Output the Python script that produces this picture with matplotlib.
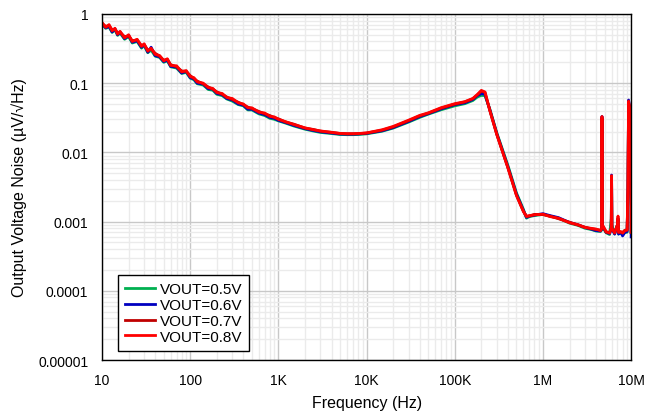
import numpy as np
import matplotlib
matplotlib.use("Agg")
import matplotlib.pyplot as plt
from matplotlib.ticker import LogLocator, NullFormatter

plt.rcParams['font.family'] = ['Liberation Sans', 'DejaVu Sans']

# frequency points (Hz)
freq = [10, 11, 12, 13, 14, 15, 16, 18, 20, 22, 25, 28, 30, 33, 36, 40, 45, 50, 55, 60,
        70, 80, 90, 100, 110, 120, 140, 160, 180, 200, 230, 260, 300, 350, 400, 450, 500,
        600, 700, 800, 900, 1000,
        1.2e3, 1.5e3, 2e3, 2.5e3, 3e3, 4e3, 5e3, 6e3, 7e3, 8e3, 1e4, 1.5e4, 2e4, 3e4, 4e4,
        5e4, 7e4, 1e5, 1.3e5, 1.6e5, 1.8e5, 2e5, 2.2e5, 2.5e5, 3e5, 4e5, 5e5, 6e5,
        6.5e5, 7e5, 8e5, 1e6, 1.2e6, 1.5e6, 2e6, 2.5e6, 3e6, 3.5e6, 4e6, 4.5e6, 4.64e6,
        4.67e6, 4.70e6, 5.2e6, 5.7e6, 5.95e6, 6.0e6, 6.05e6, 6.5e6, 7.0e6, 7.1e6, 7.2e6,
        7.6e6, 8e6, 8.5e6, 9e6, 9.2e6, 9.35e6, 9.6e6, 9.8e6, 9.95e6, 1e7]

# output noise (uV/rtHz)
vout_05 = [0.71, 0.62, 0.65, 0.54, 0.59, 0.49, 0.53, 0.43, 0.47, 0.38, 0.40, 0.32, 0.35, 0.275,
           0.30, 0.245, 0.235, 0.2, 0.21, 0.172, 0.165, 0.138, 0.143, 0.118, 0.112, 0.098,
           0.094, 0.081, 0.079, 0.069, 0.066, 0.059, 0.055, 0.049, 0.047, 0.041, 0.041, 0.036,
           0.034, 0.031, 0.030, 0.0285,
           0.0265, 0.024, 0.0216, 0.0203, 0.0194, 0.0187, 0.0181, 0.018, 0.018, 0.0181, 0.0185,
           0.0202, 0.0224, 0.0274, 0.032, 0.0356, 0.0412, 0.047, 0.0505, 0.056, 0.063, 0.0665,
           0.066, 0.042, 0.019, 0.0065, 0.0026, 0.0015,
           0.00112, 0.00118, 0.00122, 0.00127, 0.0012, 0.00112, 0.00095, 0.00088, 0.0008,
           0.00077, 0.00073, 0.00072, 0.00076, 0.03, 0.00085, 0.00069, 0.00065, 0.0011, 0.004,
           0.0009, 0.00066, 0.0009, 0.0011, 0.00066, 0.0007, 0.00065, 0.0007, 0.0007, 0.0025,
           0.05, 0.043, 0.034, 0.028, 0.0007]
vout_06 = [0.72, 0.63, 0.66, 0.55, 0.61, 0.50, 0.55, 0.44, 0.49, 0.39, 0.41, 0.33, 0.36, 0.28,
           0.33, 0.25, 0.24, 0.205, 0.215, 0.175, 0.17, 0.14, 0.148, 0.12, 0.115, 0.1, 0.097,
           0.083, 0.082, 0.071, 0.068, 0.06, 0.057, 0.05, 0.048, 0.042, 0.042, 0.037, 0.035,
           0.032, 0.031, 0.029,
           0.027, 0.0245, 0.022, 0.0207, 0.0198, 0.019, 0.0184, 0.0183, 0.0183, 0.0184, 0.0188,
           0.0205, 0.0228, 0.028, 0.0328, 0.0362, 0.0424, 0.0488, 0.052, 0.058, 0.066, 0.0705,
           0.069, 0.041, 0.0185, 0.0062, 0.0025, 0.00145,
           0.00115, 0.0012, 0.00124, 0.0013, 0.00122, 0.00114, 0.00097, 0.0009, 0.00082,
           0.00078, 0.00074, 0.00073, 0.00078, 0.033, 0.00088, 0.0007, 0.00067, 0.00078, 0.0047,
           0.00078, 0.00066, 0.0009, 0.0011, 0.00066, 0.0007, 0.00062, 0.0007, 0.00072, 0.0028,
           0.057, 0.046, 0.036, 0.03, 0.0006]
vout_07 = [0.73, 0.66, 0.68, 0.59, 0.60, 0.53, 0.54, 0.47, 0.48, 0.41, 0.42, 0.35, 0.36, 0.30,
           0.31, 0.27, 0.245, 0.215, 0.22, 0.185, 0.172, 0.15, 0.148, 0.128, 0.117, 0.107,
           0.098, 0.088, 0.082, 0.075, 0.069, 0.063, 0.058, 0.053, 0.049, 0.045, 0.043, 0.039,
           0.036, 0.034, 0.0318, 0.0305,
           0.0275, 0.0255, 0.0224, 0.0214, 0.0202, 0.0195, 0.0187, 0.0185, 0.0185, 0.0186,
           0.019, 0.0209, 0.0233, 0.0287, 0.0336, 0.0368, 0.0434, 0.0496, 0.0535, 0.0595,
           0.0675, 0.0765, 0.0735, 0.040, 0.018, 0.006, 0.0024, 0.0014,
           0.0012, 0.0012, 0.00127, 0.00126, 0.0012, 0.0011, 0.00098, 0.00089, 0.00083,
           0.00079, 0.00077, 0.00075, 0.0008, 0.031, 0.0009, 0.0007, 0.0007, 0.0008, 0.0044,
           0.0008, 0.0007, 0.0009, 0.0011, 0.0007, 0.0007, 0.0007, 0.00075, 0.00075, 0.0028,
           0.052, 0.044, 0.034, 0.029, 0.0007]
vout_08 = [0.75, 0.64, 0.70, 0.57, 0.62, 0.51, 0.56, 0.45, 0.50, 0.40, 0.43, 0.34, 0.37, 0.29,
           0.32, 0.26, 0.25, 0.21, 0.225, 0.18, 0.178, 0.145, 0.152, 0.124, 0.12, 0.104, 0.10,
           0.086, 0.084, 0.073, 0.071, 0.062, 0.060, 0.052, 0.050, 0.044, 0.044, 0.038, 0.037,
           0.033, 0.0325, 0.030,
           0.0278, 0.0252, 0.0226, 0.0212, 0.0204, 0.0194, 0.0188, 0.0186, 0.0186, 0.0187,
           0.0191, 0.0212, 0.0237, 0.0292, 0.0342, 0.0372, 0.0442, 0.0505, 0.054, 0.060,
           0.0685, 0.0785, 0.0745, 0.040, 0.018, 0.006, 0.0024, 0.0014,
           0.00118, 0.00122, 0.00125, 0.00128, 0.00118, 0.00112, 0.00096, 0.00090, 0.00082,
           0.00080, 0.00078, 0.00074, 0.0008, 0.033, 0.0009, 0.00072, 0.00068, 0.0008, 0.0046,
           0.0008, 0.00068, 0.0009, 0.0012, 0.0007, 0.00072, 0.00068, 0.00074, 0.00076, 0.003,
           0.055, 0.045, 0.035, 0.03, 0.0007]

series = [("VOUT=0.5V", vout_05, "#00B050"),
          ("VOUT=0.6V", vout_06, "#0000C0"),
          ("VOUT=0.7V", vout_07, "#C00000"),
          ("VOUT=0.8V", vout_08, "#FF0000")]

x_ticks = [10, 100, 1e3, 1e4, 1e5, 1e6, 1e7]
x_labels = ["10", "100", "1K", "10K", "100K", "1M", "10M"]
y_ticks = [1e-5, 1e-4, 1e-3, 1e-2, 1e-1, 1]
y_labels = ["0.00001", "0.0001", "0.001", "0.01", "0.1", "1"]

fig = plt.figure(figsize=(6.46, 4.14), dpi=100)
ax = fig.add_axes([0.158, 0.128, 0.819, 0.836])

for name, vals, col in series:
    ax.plot(freq, vals, color=col, lw=2.0, label=name, solid_joinstyle="round")

ax.set_xscale("log")
ax.set_yscale("log")
ax.set_xlim(10, 1e7)
ax.set_ylim(1e-5, 1)
ax.set_xticks(x_ticks, x_labels)
ax.set_yticks(y_ticks, y_labels)
ax.xaxis.set_minor_locator(LogLocator(base=10, subs=np.arange(2, 10)))
ax.yaxis.set_minor_locator(LogLocator(base=10, subs=np.arange(2, 10)))
ax.xaxis.set_minor_formatter(NullFormatter())
ax.yaxis.set_minor_formatter(NullFormatter())
ax.tick_params(which="both", length=0, labelsize=10)
ax.tick_params(axis="x", pad=9)
ax.tick_params(axis="y", pad=10)
ax.grid(which="minor", color="#ebebeb", lw=1.0)
ax.grid(which="major", color="#c8c8c8", lw=1.0)
ax.set_axisbelow(True)
for s in ax.spines.values():
    s.set_color("black")
    s.set_linewidth(1.0)

ax.set_xlabel("Frequency (Hz)", fontsize=11.5, labelpad=6)
ax.set_ylabel("Output Voltage Noise (µV/√Hz)", fontsize=11.5, labelpad=8)

leg = ax.legend(loc="lower left", bbox_to_anchor=(0.03, 0.027), fontsize=11,
                frameon=True, fancybox=False, edgecolor="black", framealpha=1,
                handlelength=2.0, handletextpad=0.3, labelspacing=0.12, borderpad=0.45,
                borderaxespad=0)
leg.get_frame().set_linewidth(1.0)

fig.savefig("out.png", dpi=100)
